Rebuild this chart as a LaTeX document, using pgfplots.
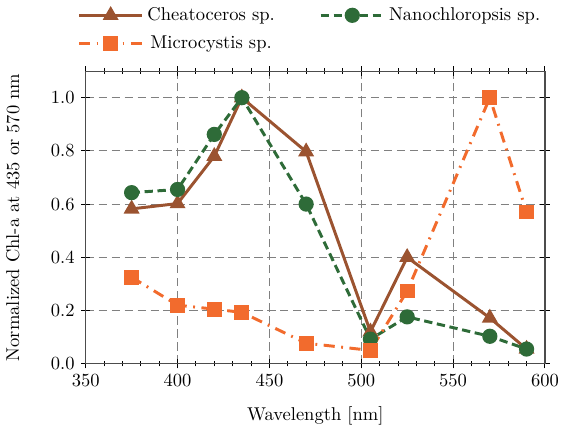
\documentclass[border=0pt]{standalone}
\usepackage{pgfplots}
\pgfplotsset{compat=1.18}
\definecolor{cbrown}{HTML}{9B5330}
\definecolor{cgreen}{HTML}{2E6B38}
\definecolor{corange}{HTML}{F26B2D}
\begin{document}
\begin{tikzpicture}
\begin{axis}[
  scale only axis,
  width=248pt, height=158pt,
  xmin=350, xmax=600, ymin=0, ymax=1.1,
  xtick={350,400,...,600},
  ytick={0,0.2,...,1.0},
  minor x tick num=4,
  yticklabel style={/pgf/number format/.cd, fixed, fixed zerofill, precision=1},
  tick align=center,
  major tick length=5pt, minor tick length=3pt,
  tick style={black, line width=0.5pt},
  xmajorgrids, ymajorgrids,
  major grid style={gray, line width=0.6pt, dash pattern=on 4.5pt off 2.5pt},
  axis line style={black!70, line width=0.6pt},
  xlabel={Wavelength [nm]},
  ylabel={Normalized Chl-a at 435 or 570 nm},
  ylabel style={yshift=10pt},
  xlabel style={yshift=-4pt},
  legend columns=2,
  legend style={draw=none, at={(0.49,1.04)}, anchor=south, font=\normalsize,
    /tikz/every even column/.append style={column sep=22pt},
    row sep=3pt},
  legend image code/.code={
    \draw[mark repeat=2,mark phase=2,#1] plot coordinates {(0cm,0cm) (0.6cm,0cm) (1.2cm,0cm)};},
]
\addplot[cbrown, line width=1.6pt, mark=triangle*, mark size=3.4pt, mark options={solid}]
 coordinates {(375,0.582) (400,0.602) (420,0.78) (435,1.0) (470,0.797) (505,0.12) (525,0.40) (570,0.172) (590,0.055)};
\addlegendentry{Cheatoceros sp.}
\addplot[cgreen, line width=1.6pt, dash pattern=on 4.5pt off 2.5pt, mark=*, mark size=3.3pt, mark options={solid}]
 coordinates {(375,0.643) (400,0.655) (420,0.862) (435,1.0) (470,0.60) (505,0.092) (525,0.176) (570,0.103) (590,0.055)};
\addlegendentry{Nanochloropsis sp.}
\addplot[corange, line width=1.6pt, dash pattern=on 6pt off 3.5pt on 1pt off 3.5pt, mark=square*, mark size=3.2pt, mark options={solid}]
 coordinates {(375,0.325) (400,0.22) (420,0.205) (435,0.193) (470,0.077) (505,0.05) (525,0.273) (570,1.0) (590,0.57)};
\addlegendentry{Microcystis sp.}
\end{axis}
\end{tikzpicture}
\end{document}
